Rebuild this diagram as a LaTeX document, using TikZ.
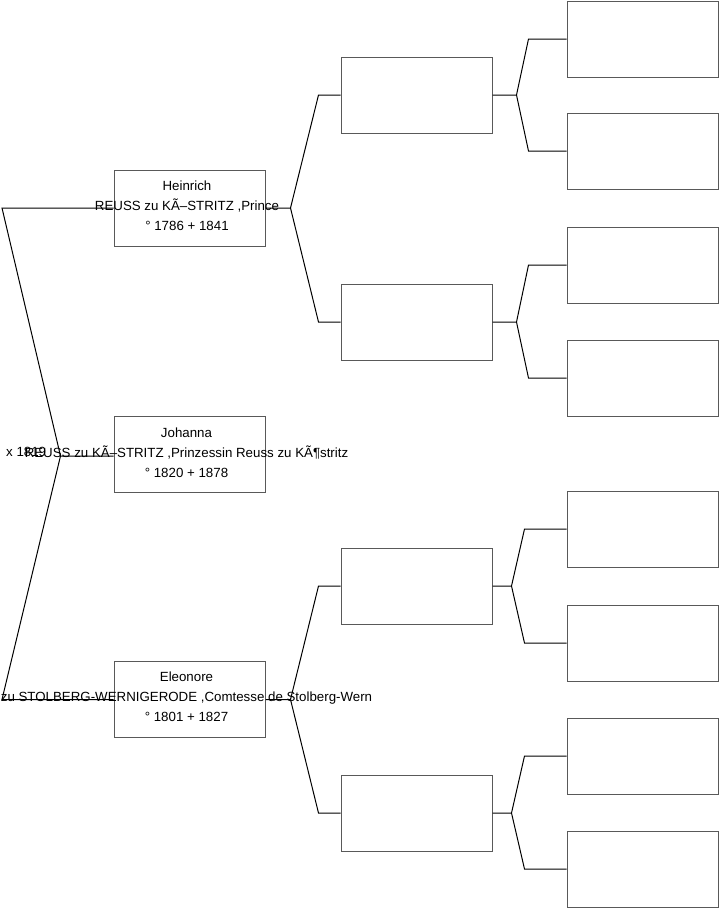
\documentclass[tikz,border=0pt]{standalone}
\usepackage{fontspec}
\setmainfont{Liberation Sans}
\usetikzlibrary{positioning,calc}

\begin{document}
\begin{tikzpicture}[x=1pt, y=-1pt,
  person/.style={draw=black!65, line width=1pt, minimum width=151pt,
    minimum height=76pt, inner sep=0pt},
  info/.style={font=\fontsize{13.3}{20}\selectfont, align=center, inner sep=0pt},
  link/.style={draw=black, line width=1pt}]
\useasboundingbox (0,0) rectangle (719,908);
% first generation
\node[person] (heinrich) at (189.5,208) {};
\node[person] (johanna) at (189.5,454) {};
\node[person] (eleonore) at (189.5,699.5) {};
% parents and grandparents
\node[person] (g2-1) at (416.5,95) {};
\node[person] (g2-2) at (416.5,322) {};
\node[person] (g2-3) at (416.5,586) {};
\node[person] (g2-4) at (416.5,813) {};
\foreach \y [count=\i] in {39,151,265,378,529,643,756,869}
  \node[person] (g3-\i) at (642.5,\y) {};
% left fork
\coordinate (edge) at (2,0);
\coordinate (root) at ($(johanna.west)+(-53,2)$);
\draw[link] (johanna.west |- root) -- (root) -- (heinrich.west -| edge) -- (heinrich.west);
\draw[link] (root) -- (eleonore.west -| edge) -- (eleonore.west);
\node[info, anchor=west] (marr) at (6,452) {x 1819};
% forks to the second generation
\foreach \c/\a/\b in {heinrich/1/2, eleonore/3/4} {
  \coordinate (f-\c) at ($(\c.east)+(25,0)$);
  \draw[link] (\c.east) -- (f-\c) -- ($(g2-\a.west)+(-22,0)$) -- (g2-\a.west);
  \draw[link] (f-\c) -- ($(g2-\b.west)+(-22,0)$) -- (g2-\b.west);
}
% forks to the third generation
\foreach \p/\a/\b/\d/\h in {1/1/2/24/38, 2/3/4/24/38, 3/5/6/19/42, 4/7/8/19/42} {
  \coordinate (f-\p) at ($(g2-\p.east)+(\d,0)$);
  \draw[link] (g2-\p.east) -- (f-\p) -- ($(g3-\a.west)+(-\h,0)$) -- (g3-\a.west);
  \draw[link] (f-\p) -- ($(g3-\b.west)+(-\h,0)$) -- (g3-\b.west);
}
% names
\node[info] (heinrich-txt) at ($(heinrich.center)+(-2.5,-2)$)
  {Heinrich\\REUSS zu KÃ–STRITZ ,Prince\\° 1786 + 1841};
\node[info] (johanna-txt) at ($(johanna.center)+(-3,-1)$)
  {Johanna\\REUSS zu KÃ–STRITZ ,Prinzessin Reuss zu KÃ¶stritz\\° 1820 + 1878};
\node[info] (eleonore-txt) at ($(eleonore.center)+(-3,-2.5)$)
  {Eleonore\\zu STOLBERG-WERNIGERODE ,Comtesse de Stolberg-Wern\\° 1801 + 1827};
\end{tikzpicture}
\end{document}
